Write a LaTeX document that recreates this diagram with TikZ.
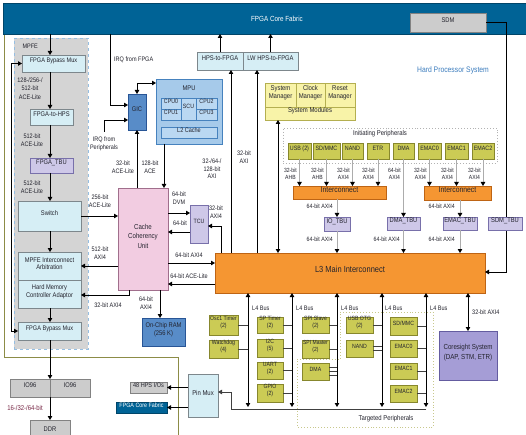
\documentclass[tikz,border=0pt]{standalone}
\usepackage{fontspec}
\setmainfont{Liberation Sans}[FakeStretch=0.85]
\usetikzlibrary{arrows.meta,fit,calc}
\definecolor{bannerc}{RGB}{0,99,150}
\definecolor{cyanf}{RGB}{214,238,245}
\definecolor{boxd}{RGB}{125,135,140}
\definecolor{lavf}{RGB}{206,200,232}
\definecolor{lavd}{RGB}{120,112,170}
\definecolor{bluef}{RGB}{88,140,200}
\definecolor{blued}{RGB}{40,85,150}
\definecolor{mpuf}{RGB}{166,202,234}
\definecolor{mpuin}{RGB}{186,216,242}
\definecolor{mpud}{RGB}{70,130,190}
\definecolor{ccuf}{RGB}{242,204,225}
\definecolor{ccud}{RGB}{160,110,140}
\definecolor{orf}{RGB}{245,150,50}
\definecolor{ord}{RGB}{190,100,20}
\definecolor{sysf}{RGB}{248,243,168}
\definecolor{sysd}{RGB}{180,175,80}
\definecolor{perf}{RGB}{203,203,85}
\definecolor{perd}{RGB}{135,135,45}
\definecolor{grayf}{RGB}{204,204,204}
\definecolor{grayd}{RGB}{130,130,130}
\definecolor{coref}{RGB}{165,157,214}
\definecolor{cored}{RGB}{100,92,160}
\definecolor{mpfef}{RGB}{212,212,212}
\definecolor{mpfed}{RGB}{150,190,225}
\definecolor{hpsline}{RGB}{140,140,70}
\definecolor{txt}{RGB}{35,35,45}
\definecolor{hpstxt}{RGB}{60,125,190}
\definecolor{ddrtxt}{RGB}{120,40,70}
\definecolor{tgtc}{RGB}{200,200,140}
\begin{document}
\begin{tikzpicture}[x=1pt,y=-1pt,
  every node/.style={text=txt, font=\fontsize{6.8}{7.8}\selectfont},
  bx/.style={rectangle, draw, line width=0.6pt, inner sep=0pt, outer sep=0pt, align=center},
  cyanbox/.style={bx, fill=cyanf, draw=boxd},
  tbubox/.style={bx, fill=lavf, draw=lavd},
  bluebox/.style={bx, fill=bluef, draw=blued},
  mpubox/.style={bx, fill=mpuf, draw=mpud},
  mpuinner/.style={bx, fill=mpuin, draw=mpud, font=\fontsize{6.2}{7}\selectfont},
  ccubox/.style={bx, fill=ccuf, draw=ccud},
  orbox/.style={bx, fill=orf, draw=ord},
  sysbox/.style={bx, fill=sysf, draw=sysd, font=\fontsize{7}{7.6}\selectfont},
  perbox/.style={bx, fill=perf, draw=perd, font=\fontsize{6.3}{7}\selectfont},
  lfbox/.style={bx, fill=perf, draw=perd, font=\fontsize{6.1}{6.9}\selectfont},
  graybox/.style={bx, fill=grayf, draw=grayd},
  corebox/.style={bx, fill=coref, draw=cored},
  lbl/.style={align=center, inner sep=0pt, font=\fontsize{6.5}{7.5}\selectfont},
  arr/.style={line width=0.9pt, -{Triangle[length=4pt,width=4.5pt]}},
  darr/.style={line width=0.9pt, {Triangle[length=4pt,width=4.5pt]}-{Triangle[length=4pt,width=4.5pt]}},
  garr/.style={line width=0.8pt, draw=gray!65, -{Triangle[length=4pt,width=4.5pt,color=black]}},
  conn/.style={line width=0.8pt, draw=black!75},
]
\useasboundingbox (0,0) rectangle (526,435);
\fill[white] (0,0) rectangle (526,435);
% HPS border
\draw[hpsline, line width=1pt] (4,34) -- (4,357) -- (178,357) -- (178,436);
% banner
\node[bx, fill=bannerc, draw=bannerc!70!black, fit={(3,3) (526,34)}] (banner) {};
\node[text=white, font=\fontsize{7.4}{9}\selectfont] (fcf) at (277,19) {FPGA Core Fabric};
\node[graybox, fit={(410,13) (486,32)}] (sdm) {SDM};
\node[text=hpstxt, font=\fontsize{8}{9}\selectfont] (hpst) at (453,70) {Hard Processor System};
% MPFE
\node[bx, fill=mpfef, draw=mpfed, dashed, line width=0.8pt, fit={(14,38) (88,349)}] (mpfe) {};
\node[anchor=west, font=\fontsize{6.5}{7}\selectfont] (mpfel) at (19,46) {MPFE};
\node[cyanbox, font=\fontsize{6.6}{7.6}\selectfont, fit={(22,55) (85,72)}] (mux1) {FPGA Bypass Mux};
\node[cyanbox, fit={(30,109) (73,125)}] (f2h) {FPGA-to-HPS};
\node[tbubox, fit={(30,158) (73,173)}] (ftbu) {FPGA\_TBU};
\node[cyanbox, fit={(18,201) (81,231)}] (switch) {Switch};
\node[cyanbox, fit={(18,252) (81,280)}] (mia) {MPFE Interconnect\\Arbitration};
\node[cyanbox, fit={(18,280) (81,308)}] (hmca) {Hard Memory\\Controller Adaptor};
\node[cyanbox, font=\fontsize{6.6}{7.6}\selectfont, fit={(18,322) (81,340)}] (mux2) {FPGA Bypass Mux};
\coordinate (cx) at (50,0);
\coordinate (byp) at (11,0);
\draw[arr] (banner.south -| cx) -- (mux1.north -| cx);
\draw[arr] (mux1.south -| cx) -- (f2h.north -| cx);
\draw[arr] (f2h.south -| cx) -- (ftbu.north -| cx);
\draw[arr] (ftbu.south -| cx) -- (switch.north -| cx);
\draw[arr] (switch.south -| cx) -- (mia.north -| cx);
\draw[arr] (hmca.south -| cx) -- (mux2.north -| cx);
\draw[darr] (mux1.west) -- (mux1.west -| byp) -- (mux2.west -| byp) -- (mux2.west);
\node[lbl, font=\fontsize{6.5}{8.4}\selectfont] (la) at (30,88.5) {128-/256-/\\512-bit\\ACE-Lite};
\node[lbl] (lb) at (32,140) {512-bit\\ACE-Lite};
\node[lbl] (lc) at (32,187) {512-bit\\ACE-Lite};
% IO96 / DDR
\node[graybox, fit={(10,379) (50,397)}] (io1) {IO96};
\node[graybox, fit={(50,379) (90,397)}] (io2) {IO96};
\node[graybox, fit={(30,420) (70,442)}] (ddr) {DDR};
\draw[arr] (mux2.south -| cx) -- (io1.north east);
\draw[arr] (io1.south east) -- (ddr.north);
\node[lbl, text=ddrtxt, font=\fontsize{7}{8}\selectfont] (ddrl) at (25,408) {16-/32-/64-bit};
% GIC / MPU
\node[bluebox, fit={(128,94) (146,130)}] (gic) {GIC};
\node[mpubox, fit={(156,79) (222,144)}] (mpu) {};
\node (mput) at (189,88) {MPU};
\node[mpuinner, fit={(161,98) (181,109)}] (cpu0) {CPU0};
\node[mpuinner, fit={(161,109) (181,120)}] (cpu1) {CPU1};
\node[mpuinner, fit={(181,98) (196,120)}] (scu) {SCU};
\node[mpuinner, fit={(196,98) (217,109)}] (cpu2) {CPU2};
\node[mpuinner, fit={(196,109) (217,120)}] (cpu3) {CPU3};
\node[mpuinner, font=\fontsize{6.5}{7}\selectfont, fit={(161,127) (217,138)}] (l2) {L2 Cache};
\coordinate (irqa) at (110,105);
\draw[arr] (banner.south -| irqa) -- (irqa) -- (irqa -| gic.west);
\node[lbl, anchor=west] (irqal) at (114,60) {IRQ from FPGA};
\coordinate (irqb0) at (104,132);
\coordinate (irqb) at (104,120);
\draw[arr] (irqb0) -- (irqb) -- (irqb -| gic.west);
\node[lbl] (irqbl) at (104,144) {IRQ from\\Peripherals};
\coordinate (gm) at (137,83);
\draw[darr] (gic.north) -- (gic.north |- gm) -- (gm -| mpu.west);
% CCU
\node[ccubox, font=\fontsize{7.2}{9.5}\selectfont, fit={(118,188) (168,290)}] (ccu) {Cache\\Coherency\\Unit};
\draw[arr] (ccu.north -| gic.south) -- (gic.south);
\coordinate (mc) at (164,0);
\draw[arr] (mpu.south -| mc) -- (ccu.north -| mc);
\node[lbl] (ld) at (123,167) {32-bit\\ACE-Lite};
\node[lbl] (le) at (150,167) {128-bit\\ACE};
\draw[arr] (switch.east) -- (switch.east -| ccu.west);
\node[lbl] (lf) at (100,201) {256-bit\\ACE-Lite};
\draw[arr] (ccu.west |- mia.east) -- (mia.east);
\node[lbl] (lg) at (100,253) {512-bit\\AXI4};
\coordinate (ch) at (129,295);
\draw[arr] (ccu.south -| ch) -- (ch) -- (ch -| hmca.east);
\node[lbl] (lh) at (108,305) {32-bit AXI4};
\node[bluebox, fit={(142,318) (185,346)}] (ocram) {On-Chip RAM\\(256 K)};
\coordinate (co) at (160,0);
\draw[arr] (ccu.south -| co) -- (ocram.north -| co);
\node[lbl] (li) at (146,303) {64-bit\\AXI4};
% TCU
\node[tbubox, font=\fontsize{6.2}{7}\selectfont, fit={(190,205) (208,243)}] (tcu) {TCU};
\coordinate (t1) at (0,213);
\coordinate (t2) at (0,232);
\draw[arr] (ccu.east |- t1) -- (tcu.west |- t1);
\draw[arr] (tcu.west |- t2) -- (ccu.east |- t2);
\node[lbl] (lj) at (179,198) {64-bit\\DVM};
\node[lbl] (lk) at (180,223) {64-bit};
% L3
\node[orbox, font=\fontsize{8.8}{10}\selectfont, fit={(215,253) (485,293)}] (l3) {L3 Main Interconnect};
\coordinate (lt) at (221,226);
\draw[arr] (l3.north -| lt) -- (lt) -- (lt -| tcu.east);
\node[lbl] (ll) at (216,212) {32-bit\\AXI4};
\coordinate (t3) at (0,263);
\coordinate (t4) at (0,284);
\draw[arr] (ccu.east |- t3) -- (l3.west |- t3);
\draw[arr] (l3.west |- t4) -- (ccu.east |- t4);
\node[lbl] (lm) at (189,255) {64-bit AXI4};
\node[lbl] (ln) at (189,276) {64-bit ACE-Lite};
% HPS-to-FPGA
\node[cyanbox, fit={(197,52) (243,70)}] (h2f) {HPS-to-FPGA};
\node[cyanbox, fit={(243,52) (298,70)}] (lw) {LW HPS-to-FPGA};
\draw[arr] (h2f.north) -- (h2f.north |- banner.south);
\draw[arr] (lw.north) -- (lw.north |- banner.south);
\coordinate (a1) at (231,0);
\coordinate (a2) at (257,0);
\draw[arr] (l3.north -| a1) -- (h2f.south -| a1);
\draw[arr] (l3.north -| a2) -- (lw.south -| a2);
\node[lbl] (lo) at (212,169) {32-/64-/\\128-bit\\AXI};
\node[lbl] (lp) at (244,157) {32-bit\\AXI};
% System modules
\node[sysbox, fit={(265,83) (296,107)}] (smg) {System\\Manager};
\node[sysbox, fit={(296,83) (325,107)}] (clk) {Clock\\Manager};
\node[sysbox, fit={(325,83) (355,107)}] (rst) {Reset\\Manager};
\node[sysbox, fit={(265,107) (355,120)}] (sysm) {System Modules};
\coordinate (sx) at (278,0);
\draw[darr] (l3.north -| sx) -- (sysm.south -| sx);
% Initiating peripherals
\node[draw=gray!60, dotted, line width=0.9pt, inner sep=0pt, fit={(283,128) (497,163)}] (initbox) {};
\node[lbl, font=\fontsize{7}{8}\selectfont] (initl) at (380,134) {Initiating Peripherals};
\node[perbox, fit={(288,143) (311,159)}] (usb) {USB (2)};
\node[perbox, fit={(313,143) (340,159)}] (sdmmc) {SD/MMC};
\node[perbox, fit={(342,143) (363,159)}] (nand) {NAND};
\node[perbox, fit={(367,143) (389,159)}] (etr) {ETR};
\node[perbox, fit={(393,143) (414,159)}] (dma) {DMA};
\node[perbox, fit={(418,143) (441,159)}] (emaca) {EMAC0};
\node[perbox, fit={(445,143) (468,159)}] (emacb) {EMAC1};
\node[perbox, fit={(472,143) (494,159)}] (emacc) {EMAC2};
\node[orbox, font=\fontsize{8}{9}\selectfont, fit={(293,186) (386,199)}] (ic1) {Interconnect};
\node[orbox, font=\fontsize{8}{9}\selectfont, fit={(424,186) (491,200)}] (ic2) {Interconnect};
\draw[garr] (usb.south) -- (usb.south |- ic1.north);
\draw[garr] (sdmmc.south) -- (sdmmc.south |- ic1.north);
\draw[garr] (nand.south) -- (nand.south |- ic1.north);
\draw[garr] (etr.south) -- (etr.south |- ic1.north);
\draw[garr] (emaca.south) -- (emaca.south |- ic2.north);
\draw[garr] (emacb.south) -- (emacb.south |- ic2.north);
\draw[garr] (emacc.south) -- (emacc.south |- ic2.north);
\node[lbl, anchor=east, font=\fontsize{6}{7}\selectfont] (p1) at (297,173.5) {32-bit\\AHB};
\node[lbl, anchor=east, font=\fontsize{6}{7}\selectfont] (p2) at (324,173.5) {32-bit\\AHB};
\node[lbl, anchor=east, font=\fontsize{6}{7}\selectfont] (p3) at (350,173.5) {32-bit\\AXI4};
\node[lbl, anchor=east, font=\fontsize{6}{7}\selectfont] (p4) at (375,173.5) {32-bit\\AXI4};
\node[lbl, anchor=east, font=\fontsize{6}{7}\selectfont] (p5) at (401,173.5) {64-bit\\AXI4};
\node[lbl, anchor=east, font=\fontsize{6}{7}\selectfont] (p6) at (427,173.5) {32-bit\\AXI4};
\node[lbl, anchor=east, font=\fontsize{6}{7}\selectfont] (p7) at (454,173.5) {32-bit\\AXI4};
\node[lbl, anchor=east, font=\fontsize{6}{7}\selectfont] (p8) at (481,173.5) {32-bit\\AXI4};
% TBUs
\node[tbubox, fit={(324,217) (350,231)}] (iotbu) {IO\_TBU};
\node[tbubox, fit={(387,217) (420,230)}] (dmatbu) {DMA\_TBU};
\node[tbubox, fit={(443,217) (477,230)}] (emactbu) {EMAC\_TBU};
\draw[garr] (dma.south) -- (dma.south |- dmatbu.north);
\draw[garr] (ic1.south -| iotbu.north) -- (iotbu.north);
\draw[garr] (ic2.south -| emactbu.north) -- (emactbu.north);
\draw[garr] (iotbu.south) -- (iotbu.south |- l3.north);
\draw[garr] (dmatbu.south) -- (dmatbu.south |- l3.north);
\draw[garr] (emactbu.south) -- (emactbu.south |- l3.north);
\node[lbl, anchor=east, font=\fontsize{6.2}{7}\selectfont] (q1) at (333,206) {64-bit AXI4};
\node[lbl, anchor=east, font=\fontsize{6.2}{7}\selectfont] (q2) at (333,239) {64-bit AXI4};
\node[lbl, anchor=east, font=\fontsize{6.2}{7}\selectfont] (q3) at (455,206) {64-bit AXI4};
\node[lbl, anchor=east, font=\fontsize{6.2}{7}\selectfont] (q4) at (455,239) {64-bit AXI4};
\node[lbl, anchor=east, font=\fontsize{6.2}{7}\selectfont] (q5) at (400,239) {64-bit AXI4};
% SDM line
\coordinate (sdx) at (506,272);
\draw[arr] (sdm.east) -- (sdm.east -| sdx) -- (sdx) -- (sdx -| l3.east);
\node[tbubox, fit={(488,217) (522,230)}] (sdmtbu) {SDM\_TBU};
% L4 buses
\coordinate (b1) at (248,407);
\coordinate (b2) at (292,407);
\coordinate (b3) at (337,407);
\coordinate (b4) at (382,407);
\coordinate (b5) at (426,407);
\draw[darr] (l3.south -| b1) -- (b1);
\draw[darr] (l3.south -| b2) -- (b2);
\draw[darr] (l3.south -| b3) -- (b3);
\draw[darr] (l3.south -| b4) -- (b4);
\draw[darr] (l3.south -| b5) -- (b5);
\node[lbl, anchor=west] (bl1) at (252,308) {L4 Bus};
\node[lbl, anchor=west] (bl2) at (296,308) {L4 Bus};
\node[lbl, anchor=west] (bl3) at (341,308) {L4 Bus};
\node[lbl, anchor=west] (bl4) at (385,308) {L4 Bus};
\node[lbl, anchor=west] (bl5) at (430,308) {L4 Bus};
% Targeted peripherals box
\draw[tgtc, dotted, line width=0.9pt] (297,359) -- (340,359) -- (340,312) -- (433,312) -- (433,427) -- (297,427) -- cycle;
\node[lbl, font=\fontsize{7}{8}\selectfont] (tgtl) at (386,419) {Targeted Peripherals};
% Pin mux
\node[cyanbox, font=\fontsize{7}{8}\selectfont, fit={(188,374) (218,417)}] (pinmux) {Pin Mux};
\node[graybox, font=\fontsize{6.5}{7}\selectfont, fit={(130,382) (167,393)}] (hpsio) {48 HPS I/Os};
\node[bx, fill=bannerc, draw=bannerc!70!black, text=white, font=\fontsize{6.3}{7}\selectfont, fit={(116,402) (167,413)}] (fcf2) {FPGA Core Fabric};
\draw[arr] (pinmux.west |- hpsio.east) -- (hpsio.east);
\draw[arr] (pinmux.west |- fcf2.east) -- (fcf2.east);
\coordinate (pm1) at (231,409.5);
\coordinate (pm2) at (231,392);
\draw[conn, -{Triangle[length=4pt,width=4.5pt]}] (b5 |- pm1) -- (pm1) -- (pm2) -- (pm2 -| pinmux.east);
% L4 peripherals
\node[lfbox, fit={(209,315) (238,335)}] (osc) {Osc1 Timer\\(2)};
\node[lfbox, fit={(209,340) (238,358)}] (wd) {Watchdog\\(4)};
\node[lfbox, fit={(257,317) (283,333)}] (spt) {SP Timer\\(2)};
\node[lfbox, fit={(257,339) (283,357)}] (i2c) {I2C\\(5)};
\node[lfbox, fit={(257,362) (283,379)}] (uart) {UART\\(2)};
\node[lfbox, fit={(257,384) (283,402)}] (gpio) {GPIO\\(2)};
\node[lfbox, fit={(302,317) (329,333)}] (spis) {SPI Slave\\(2)};
\node[lfbox, font=\fontsize{5.9}{6.9}\selectfont, fit={(302,340) (329,358)}] (spim) {SPI Master\\(2)};
\node[lfbox, fit={(302,363) (329,380)}] (dmab) {DMA};
\node[lfbox, fit={(346,317) (373,333)}] (usbotg) {USB OTG\\(2)};
\node[lfbox, fit={(346,340) (373,357)}] (nandb) {NAND};
\node[lfbox, fit={(390,317) (417,335)}] (sdmmcb) {SD/MMC};
\node[lfbox, fit={(390,340) (417,357)}] (emac0b) {EMAC0};
\node[lfbox, fit={(390,363) (417,379)}] (emac1b) {EMAC1};
\node[lfbox, fit={(390,385) (417,402)}] (emac2b) {EMAC2};
\draw[conn] (osc.east) -- (osc.east -| b1);
\draw[conn] (wd.east) -- (wd.east -| b1);
\draw[conn] (spt.east) -- (spt.east -| b2);
\draw[conn] (i2c.east) -- (i2c.east -| b2);
\draw[conn] (uart.east) -- (uart.east -| b2);
\draw[conn] (gpio.east) -- (gpio.east -| b2);
\draw[conn] (spis.east) -- (spis.east -| b3);
\draw[conn] (spim.east) -- (spim.east -| b3);
\draw[conn] ($(dmab.east)+(0,-4)$) -- ($(dmab.east -| b3)+(0,-4)$);
\draw[conn] (dmab.east) -- (dmab.east -| b3);
\draw[conn] ($(dmab.east)+(0,4)$) -- ($(dmab.east -| b3)+(0,4)$);
\draw[conn] (usbotg.east) -- (usbotg.east -| b4);
\draw[conn] ($(nandb.east)+(0,-2)$) -- ($(nandb.east -| b4)+(0,-2)$);
\draw[conn] ($(nandb.east)+(0,2)$) -- ($(nandb.east -| b4)+(0,2)$);
\draw[conn] (sdmmcb.east) -- (sdmmcb.east -| b5);
\draw[conn] (emac0b.east) -- (emac0b.east -| b5);
\draw[conn] (emac1b.east) -- (emac1b.east -| b5);
\draw[conn] (emac2b.east) -- (emac2b.east -| b5);
% Coresight
\node[corebox, font=\fontsize{7.3}{9.5}\selectfont, fit={(439,331) (497,380)}] (core) {Coresight System\\(DAP, STM, ETR)};
\coordinate (csx) at (468,0);
\draw[darr] (l3.south -| csx) -- (core.north -| csx);
\node[lbl, anchor=west] (lcs) at (472,312) {32-bit AXI4};
\end{tikzpicture}
\end{document}
